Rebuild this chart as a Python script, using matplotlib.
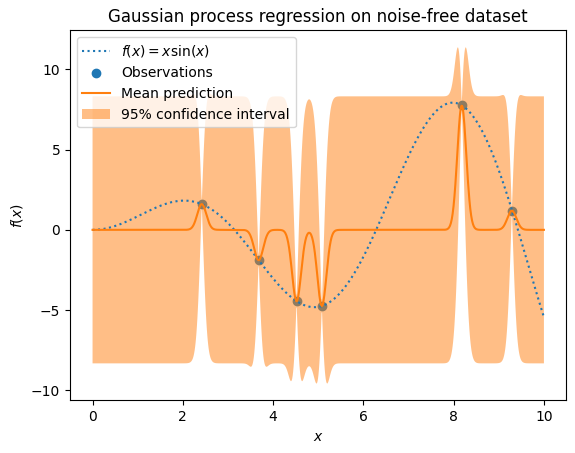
import numpy as np
import matplotlib
matplotlib.use("Agg")
import matplotlib.pyplot as plt

# Observations
x_obs = [2.42, 3.68, 4.52, 5.08, 8.18, 9.29]
y_obs = [1.60, -1.89, -4.44, -4.74, 7.75, 1.19]

# GP kernel hyperparameters (estimated from the band/mean shapes)
length_scale = 0.10
amplitude = 4.24

X = np.linspace(0, 10, 1000)
true_f = X * np.sin(X)

def rbf(a, b):
    a = np.asarray(a)[:, None]
    b = np.asarray(b)[None, :]
    return amplitude**2 * np.exp(-0.5 * (a - b) ** 2 / length_scale**2)

Xt = np.array(x_obs)
yt = np.array(y_obs)
K = rbf(Xt, Xt) + 1e-10 * np.eye(len(Xt))
Ks = rbf(X, Xt)
alpha = np.linalg.solve(K, yt)
mean = Ks @ alpha
v = np.linalg.solve(K, Ks.T)
var = amplitude**2 - np.sum(Ks * v.T, axis=1)
std = np.sqrt(np.clip(var, 0, None))

fig = plt.figure(figsize=(5.75, 4.53), dpi=100)
ax = fig.add_subplot(111)
fig.subplots_adjust(left=0.1217, right=0.9852, top=0.9327, bottom=0.1163)

ax.plot(X, true_f, label=r"$f(x) = x \sin(x)$", linestyle="dotted")
ax.scatter(Xt, yt, label="Observations")
ax.plot(X, mean, label="Mean prediction")
ax.fill_between(X, mean - 1.96 * std, mean + 1.96 * std, alpha=0.5,
                label=r"95% confidence interval")
ax.legend(loc="upper left")
ax.set_xlabel("$x$")
ax.set_ylabel("$f(x)$")
ax.set_title("Gaussian process regression on noise-free dataset")

fig.savefig("out.png", dpi=100)
